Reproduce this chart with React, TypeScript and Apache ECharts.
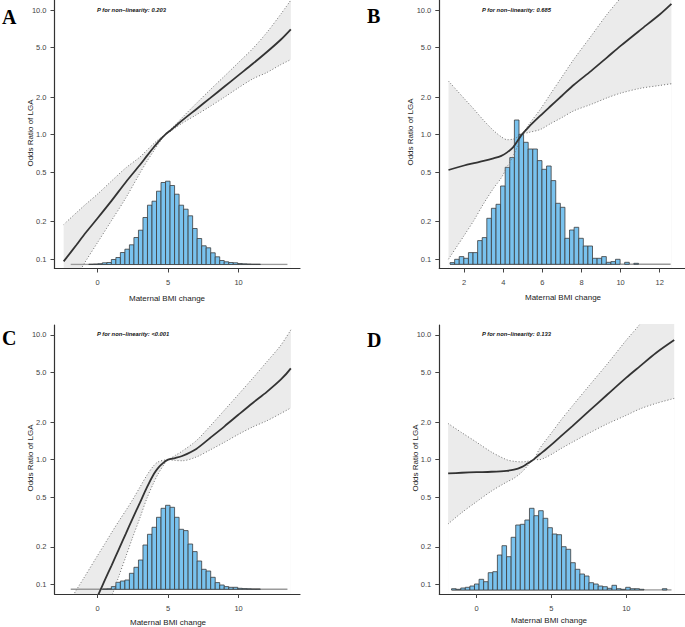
import React, { useEffect, useRef } from "react";
import * as echarts from "echarts";

// ---------------- data ----------------
const yTicks = [0.1, 0.2, 0.5, 1, 2, 5, 10];
const xTicksA = [0, 5, 10];
const xTicksB = [2, 4, 6, 8, 10, 12];
const xTicksC = [0, 5, 10];
const xTicksD = [0, 5, 10];

const pTextA = "P for non\u2212linearity: 0.203";
const pTextB = "P for non\u2212linearity: 0.685";
const pTextC = "P for non\u2212linearity: <0.001";
const pTextD = "P for non\u2212linearity: 0.133";

const xTitle = "Maternal BMI change";
const yTitle = "Odds Ratio of LGA";

// Panel A
const xsA = [-2.4, -1.5, -0.9, 0, 1, 2, 3, 3.5, 4, 4.4, 4.8, 5.2, 5.6, 6, 7, 8, 9, 10, 11, 12, 13, 13.7];
const estA = [0.096, 0.13, 0.16, 0.213, 0.295, 0.415, 0.57, 0.675, 0.795, 0.9, 1.0, 1.09, 1.19, 1.3, 1.6, 1.97, 2.43, 3.0, 3.7, 4.6, 5.8, 7.0];
const upA = [0.19, 0.236, 0.272, 0.333, 0.425, 0.54, 0.66, 0.75, 0.85, 0.93, 1.0, 1.11, 1.23, 1.37, 1.78, 2.3, 2.95, 3.8, 4.9, 6.6, 9.3, 12.0];
const lowA = [0.049, 0.072, 0.094, 0.136, 0.205, 0.31, 0.49, 0.61, 0.745, 0.87, 1.0, 1.07, 1.15, 1.235, 1.44, 1.69, 2.0, 2.38, 2.8, 3.15, 3.65, 4.0];
const histStartA = -1.9;
const histWidthA = 0.32;
const histA = [0, 0, 0, 0, 0.3, 0.5, 0.8, 1.7, 2, 5, 7, 12, 15.3, 19.7, 27, 34.3, 47, 59.3, 63.3, 73.3, 82, 83.3, 79, 70.3, 59.3, 55.3, 48.7, 36, 26, 18.7, 16.7, 11.7, 7.7, 4, 2.7, 2, 1.7, 1, 0.7, 0.5, 0.3, 0.3, 0, 0, 0, 0, 0, 0];

// Panel B
const xsB = [1.2, 2, 2.5, 3, 3.5, 3.9, 4.2, 4.5, 4.75, 4.95, 5.3, 5.9, 6.4, 7, 7.6, 8.5, 9.3, 10, 11, 12, 12.6];
const estB = [0.52, 0.565, 0.59, 0.615, 0.645, 0.675, 0.72, 0.79, 0.9, 1.0, 1.15, 1.42, 1.68, 2.05, 2.5, 3.25, 4.15, 5.15, 6.9, 9.2, 11.2];
const upB = [2.69, 1.95, 1.6, 1.3, 1.08, 0.96, 0.91, 0.92, 0.96, 1.0, 1.2, 1.6, 2.1, 2.9, 4.0, 6.2, 9.2, 12.5, 20, 32, 46];
const lowB = [0.1, 0.155, 0.205, 0.28, 0.37, 0.45, 0.55, 0.67, 0.82, 1.0, 1.04, 1.1, 1.22, 1.37, 1.55, 1.75, 1.97, 2.15, 2.35, 2.48, 2.56];
const histStartB = 1.28;
const histWidthB = 0.235;
const histB = [1.7, 5, 7.7, 6, 11.7, 11.7, 23.7, 26.7, 46, 56, 60, 78.3, 97, 106.7, 144.3, 130, 122, 115.3, 115.3, 103.7, 95, 98.3, 83.7, 61, 57, 26, 34.3, 37, 26, 18.3, 18.3, 6, 6, 7.7, 2, 2.7, 5, 0, 2, 0, 1, 0, 0, 0, 0, 0, 0, 0];

// Panel C
const xsC = [-2.4, -1.5, -1, 0, 0.5, 1, 1.5, 2, 2.5, 3, 3.5, 4, 4.3, 4.7, 5, 5.5, 6, 7, 8, 9, 10, 11, 12, 13, 13.7];
const estC = [0.02, 0.033, 0.045, 0.08, 0.107, 0.142, 0.19, 0.254, 0.34, 0.45, 0.6, 0.77, 0.86, 0.95, 1.0, 1.03, 1.07, 1.22, 1.5, 1.85, 2.3, 2.85, 3.5, 4.4, 5.4];
const upC = [0.061, 0.09, 0.111, 0.17, 0.21, 0.26, 0.32, 0.39, 0.48, 0.6, 0.75, 0.9, 0.96, 0.99, 1.0, 1.08, 1.17, 1.42, 1.87, 2.5, 3.35, 4.5, 6.1, 8.3, 11];
const lowC = [0.0068, 0.013, 0.019, 0.04, 0.057, 0.08, 0.115, 0.166, 0.24, 0.34, 0.49, 0.66, 0.77, 0.91, 1.0, 0.985, 0.98, 1.05, 1.2, 1.38, 1.6, 1.83, 2.05, 2.35, 2.6];
const histStartC = -1.9;
const histWidthC = 0.32;
const histC = [0, 0, 0, 0, 0, 0, 0, 0.3, 0.5, 2.7, 7, 8.3, 9.3, 16, 22, 29.3, 44.3, 55, 62, 72, 81, 84, 82, 72, 60, 58.7, 45.3, 37.7, 28.3, 20, 18.3, 12, 6.7, 4.3, 2.7, 2, 2, 1, 0.7, 0.5, 0.3, 0.3, 0, 0, 0, 0, 0, 0];

// Panel D
const xsD = [-1.9, -1, 0, 1, 2, 2.5, 3, 3.4, 3.8, 4.2, 4.6, 5.1, 5.6, 6.4, 7.5, 8.7, 10, 10.9, 12, 13.2];
const estD = [0.775, 0.785, 0.793, 0.8, 0.813, 0.83, 0.87, 0.93, 1.0, 1.1, 1.2, 1.35, 1.53, 1.86, 2.45, 3.3, 4.55, 5.6, 7.2, 9.1];
const upD = [1.95, 1.65, 1.38, 1.15, 1.0, 0.97, 0.96, 0.97, 1.0, 1.22, 1.42, 1.7, 2.05, 2.7, 3.9, 5.8, 9.1, 12.2, 19, 27];
const lowD = [0.305, 0.375, 0.46, 0.56, 0.66, 0.71, 0.79, 0.89, 1.0, 1.0, 1.04, 1.12, 1.22, 1.38, 1.63, 1.93, 2.27, 2.55, 2.83, 3.1];
const histStartD = -1.67;
const histWidthD = 0.306;
const histD = [1.3, 0.7, 2, 2.7, 4, 6, 10.7, 8.3, 17.3, 18.3, 35, 44.3, 33.3, 52.7, 65, 65.7, 70, 81.7, 74.3, 79.3, 71.7, 62.3, 56, 55.3, 43.3, 40.7, 27.3, 20.7, 16, 14, 7.3, 6, 4, 3.3, 1.7, 4.7, 1.3, 0.7, 2.7, 1.3, 1.3, 0.7, 0, 0, 0, 0, 1.3, 0];

// ---------------- styles / layout ----------------
const SANS = '"Liberation Sans", Arial, sans-serif';
const SERIF = '"Liberation Serif", "Times New Roman", serif';
const BAND = "#EBEBEB";
const BAR_FILL = "#79C2EE";
const BAR_STROKE = "#3c3c3c";
const MAIN = "#333333";
const CI = "#707070";

const panels = [
  { letter: "A", p: pTextA, xs: xsA, est: estA, up: upA, low: lowA, hist: histA, hStart: histStartA, hWidth: histWidthA, xTicks: xTicksA },
  { letter: "B", p: pTextB, xs: xsB, est: estB, up: upB, low: lowB, hist: histB, hStart: histStartB, hWidth: histWidthB, xTicks: xTicksB },
  { letter: "C", p: pTextC, xs: xsC, est: estC, up: upC, low: lowC, hist: histC, hStart: histStartC, hWidth: histWidthC, xTicks: xTicksC },
  { letter: "D", p: pTextD, xs: xsD, est: estD, up: upD, low: lowD, hist: histD, hStart: histStartD, hWidth: histWidthD, xTicks: xTicksD },
];

const layouts = [
  { left: 54.5, top: 0, width: 245.5, height: 268.5, xMin: -3.05, xMax: 14.35, yMin: -1.0746, yMax: 1.0803, histTop: 164.5, histH: 100, histMax: 100, letter: [2, 16.7], pPos: [97, 10], xT: [167, 298], yT: [30, 133] },
  { left: 439.3, top: 0, width: 246, height: 268.5, xMin: 0.73, xMax: 13.31, yMin: -1.0746, yMax: 1.0803, histTop: 114.3, histH: 150, histMax: 150, letter: [367, 15.8], pPos: [482, 10], xT: [563, 297], yT: [410, 132] },
  { left: 54.5, top: 325, width: 245.5, height: 269, xMin: -3.05, xMax: 14.35, yMin: -1.0778, yMax: 1.0802, histTop: 489.3, histH: 100, histMax: 100, letter: [2, 337.5], pPos: [97, 334], xT: [168, 622.5], yT: [30, 458] },
  { left: 439.3, top: 325, width: 246, height: 269, xMin: -2.49, xMax: 13.94, yMin: -1.0778, yMax: 1.0802, histTop: 490, histH: 100, histMax: 100, letter: [367, 339.5], pPos: [482, 334], xT: [549, 620.7], yT: [415, 458] },
];

const lg = (v: number) => Math.log10(v);
const SMOOTH = 0.3;

function buildOption() {
  const grid: any[] = [];
  const xAxis: any[] = [];
  const yAxis: any[] = [];
  const series: any[] = [];
  const graphic: any[] = [];
  const yTickLogs = yTicks.map(lg);

  panels.forEach((pn, i) => {
    const L = layouts[i];
    const gMain = 2 * i;
    const gHist = 2 * i + 1;
    grid.push({ left: L.left, top: L.top, width: L.width, height: L.height, containLabel: false, outerBoundsMode: "none" });
    grid.push({ left: L.left, top: L.histTop, width: L.width, height: L.histH, containLabel: false, outerBoundsMode: "none" });

    xAxis.push({
      type: "value", gridIndex: gMain, min: L.xMin, max: L.xMax, z: 10,
      axisLine: { show: true, onZero: false, lineStyle: { color: "#333", width: 1.2 } },
      axisTick: { show: true, length: 4, customValues: pn.xTicks, lineStyle: { color: "#444", width: 1 } },
      axisLabel: { customValues: pn.xTicks, fontSize: 7.5, color: "#444", fontFamily: SANS, margin: 10 },
      splitLine: { show: false },
    });
    xAxis.push({ type: "value", gridIndex: gHist, min: L.xMin, max: L.xMax, show: false });

    yAxis.push({
      type: "value", gridIndex: gMain, min: L.yMin, max: L.yMax, z: 10,
      axisLine: { show: true, onZero: false, lineStyle: { color: "#333", width: 1.2 } },
      axisTick: { show: true, length: 4, customValues: yTickLogs, lineStyle: { color: "#444", width: 1 } },
      axisLabel: {
        customValues: yTickLogs, fontSize: 7.5, color: "#444", fontFamily: SANS, margin: 8,
        formatter: (v: number) => Math.pow(10, v).toFixed(1),
      },
      splitLine: { show: false },
    });
    yAxis.push({ type: "value", gridIndex: gHist, min: 0, max: L.histMax, show: false });

    const upData = pn.xs.map((x, j) => [x, lg(pn.up[j])]);
    const lowData = pn.xs.map((x, j) => [x, lg(pn.low[j])]);
    const estData = pn.xs.map((x, j) => [x, lg(pn.est[j])]);

    // confidence band: grey area below the upper limit, masked in white below the lower limit
    series.push({
      type: "line", xAxisIndex: gMain, yAxisIndex: gMain, data: upData,
      symbol: "none", smooth: SMOOTH, lineStyle: { opacity: 0 },
      areaStyle: { color: BAND, opacity: 1, origin: "start" }, silent: true, z: 1,
    });
    series.push({
      type: "line", xAxisIndex: gMain, yAxisIndex: gMain, data: lowData,
      symbol: "none", smooth: SMOOTH, lineStyle: { opacity: 0 },
      areaStyle: { color: "#ffffff", opacity: 1, origin: "start" }, silent: true, z: 1.5,
    });

    // histogram baseline
    const hEnd = pn.hStart + pn.hist.length * pn.hWidth;
    series.push({
      type: "line", xAxisIndex: gHist, yAxisIndex: gHist,
      data: [[pn.hStart, 0], [hEnd, 0]], symbol: "none",
      lineStyle: { color: "#9a9a9a", width: 1.6 }, silent: true, z: 2,
    });
    // histogram bars
    const bins = pn.hist
      .map((h, k) => [pn.hStart + k * pn.hWidth, pn.hStart + (k + 1) * pn.hWidth, h])
      .filter((b) => b[2] > 0);
    series.push({
      type: "custom", xAxisIndex: gHist, yAxisIndex: gHist, data: bins,
      encode: { x: [0, 1], y: 2 }, silent: true, z: 3,
      renderItem: (params: any, api: any) => {
        const a = api.coord([api.value(0), api.value(2)]);
        const b = api.coord([api.value(1), 0]);
        return {
          type: "rect",
          shape: { x: a[0], y: a[1], width: b[0] - a[0], height: b[1] - a[1] },
          style: { fill: BAR_FILL, stroke: BAR_STROKE, lineWidth: 0.8 },
        };
      },
    });

    // CI dotted lines
    series.push({
      type: "line", xAxisIndex: gMain, yAxisIndex: gMain, data: upData,
      symbol: "none", smooth: SMOOTH,
      lineStyle: { color: CI, width: 1, type: [1, 2] }, silent: true, z: 4,
    });
    series.push({
      type: "line", xAxisIndex: gMain, yAxisIndex: gMain, data: lowData,
      symbol: "none", smooth: SMOOTH,
      lineStyle: { color: CI, width: 1, type: [1, 2] }, silent: true, z: 4,
    });
    // main estimate
    series.push({
      type: "line", xAxisIndex: gMain, yAxisIndex: gMain, data: estData,
      symbol: "none", smooth: SMOOTH,
      lineStyle: { color: MAIN, width: 1.8 }, silent: true, z: 5,
    });

    // texts
    graphic.push({
      type: "text", x: L.letter[0], y: L.letter[1], z: 100,
      style: { text: pn.letter, font: `bold 20px ${SERIF}`, fill: "#000", textAlign: "left", textVerticalAlign: "middle" },
    });
    graphic.push({
      type: "text", x: L.pPos[0], y: L.pPos[1], z: 100,
      style: { text: pn.p, font: `italic bold 5.8px ${SANS}`, fill: "#111", textAlign: "left", textVerticalAlign: "middle" },
    });
    graphic.push({
      type: "text", x: L.xT[0], y: L.xT[1], z: 100,
      style: { text: xTitle, font: `8px ${SANS}`, fill: "#222", textAlign: "center", textVerticalAlign: "middle" },
    });
    graphic.push({
      type: "text", x: L.yT[0], y: L.yT[1], rotation: Math.PI / 2, z: 100,
      style: { text: yTitle, font: `8px ${SANS}`, fill: "#222", textAlign: "center", textVerticalAlign: "middle" },
    });
  });

  return { animation: false, backgroundColor: "#fff", grid, xAxis, yAxis, series, graphic };
}

export default function App() {
  const ref = useRef<HTMLDivElement>(null);
  useEffect(() => {
    if (!ref.current) return;
    const chart = echarts.init(ref.current, undefined, { renderer: "svg" });
    chart.setOption(buildOption() as any);
    return () => chart.dispose();
  }, []);
  return (
    <div
      ref={ref}
      style={{ position: "fixed", left: 0, top: 0, width: 685, height: 627, background: "#fff" }}
    />
  );
}
